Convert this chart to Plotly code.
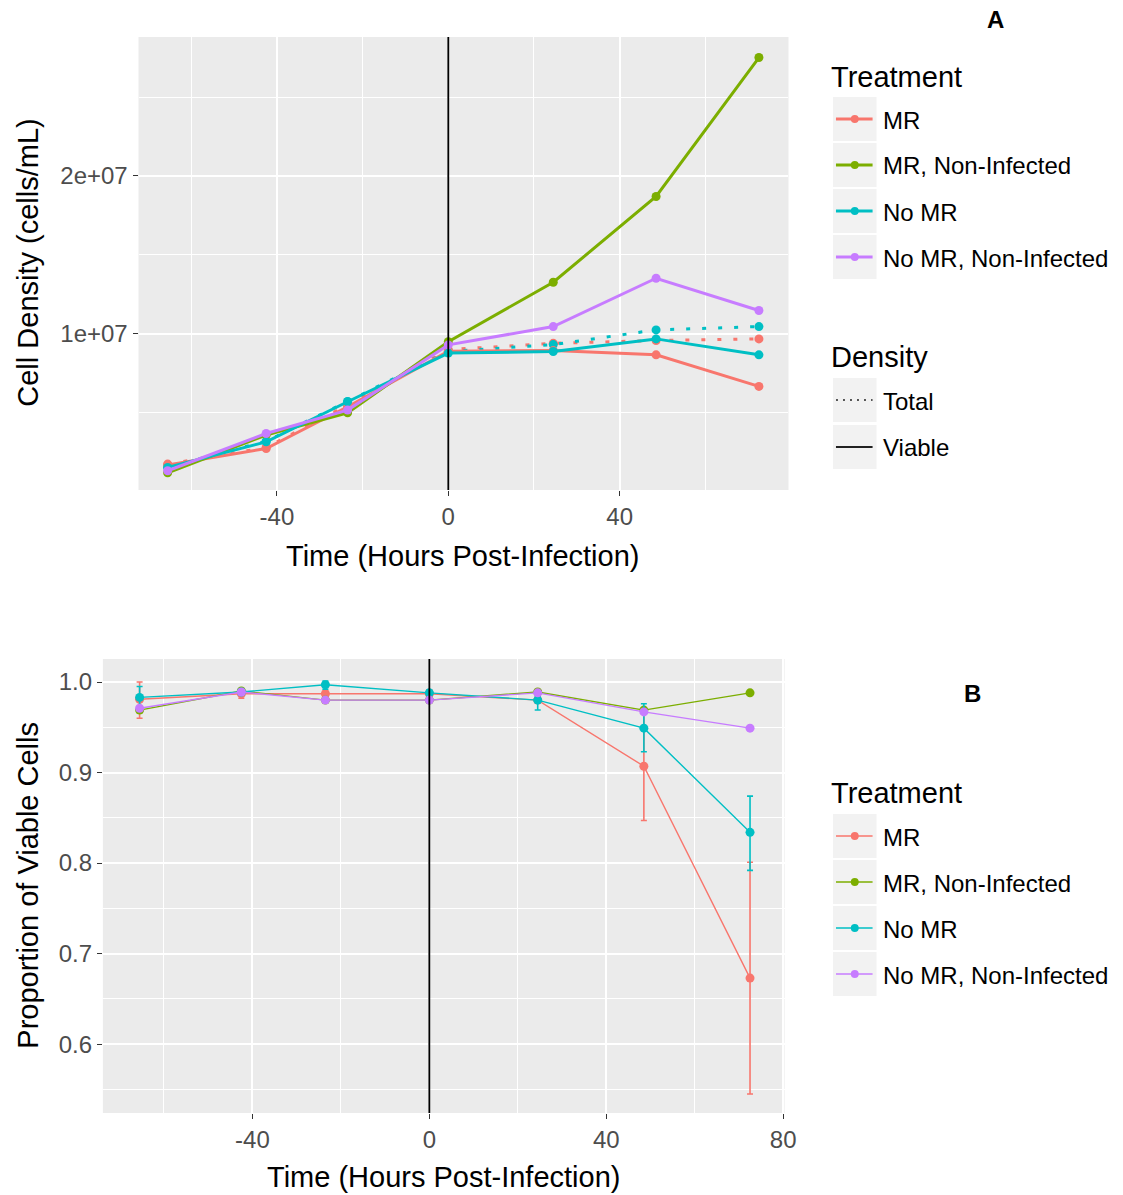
import plotly.graph_objects as go

W, H = 1123, 1195

# ---------------- data ----------------
treatments = ["MR", "MR, Non-Infected", "No MR", "No MR, Non-Infected"]
colors = ["#F8766D", "#7CAE00", "#00BFC4", "#C77CFF"]
hours = [-65.5, -42.5, -23.5, 0, 24.5, 48.5, 72.5]

# viable cell density (cells/mL)
viable_mr = [1.69e6, 2.74e6, 5.38e6, 8.90e6, 8.94e6, 8.67e6, 6.67e6]
viable_mr_ni = [1.20e6, 3.59e6, 5.00e6, 9.50e6, 1.327e7, 1.87e7, 2.75e7]
viable_nomr = [1.54e6, 3.16e6, 5.70e6, 8.78e6, 8.88e6, 9.68e6, 8.67e6]
viable_nomr_ni = [1.33e6, 3.69e6, 5.17e6, 9.30e6, 1.046e7, 1.352e7, 1.148e7]

# total cell density (cells/mL), infected treatments
total_mr = [1.75e6, 2.80e6, 5.50e6, 9.00e6, 9.40e6, 9.58e6, 9.68e6]
total_nomr = [1.57e6, 3.20e6, 5.72e6, 8.88e6, 9.32e6, 1.025e7, 1.046e7]

# proportion of viable cells with error bars
prop_mr = [0.981, 0.987, 0.987, 0.987, 0.980, 0.907, 0.673]
prop_mr_up = [0.019, 0.005, 0.003, 0.004, 0.003, 0.064, 0.128]
prop_mr_dn = [0.021, 0.005, 0.003, 0.004, 0.003, 0.060, 0.128]
prop_mr_ni = [0.969, 0.990, 0.980, 0.980, 0.989, 0.969, 0.988]
prop_mr_ni_up = [0.002, 0.002, 0.002, 0.002, 0.002, 0.002, 0.002]
prop_mr_ni_dn = [0.002, 0.002, 0.002, 0.002, 0.002, 0.002, 0.002]
prop_nomr = [0.983, 0.989, 0.997, 0.988, 0.980, 0.949, 0.834]
prop_nomr_up = [0.012, 0.003, 0.004, 0.003, 0.004, 0.027, 0.040]
prop_nomr_dn = [0.012, 0.003, 0.005, 0.003, 0.011, 0.026, 0.042]
prop_nomr_ni = [0.971, 0.989, 0.980, 0.980, 0.988, 0.967, 0.949]
prop_nomr_ni_up = [0.002, 0.002, 0.002, 0.002, 0.002, 0.002, 0.002]
prop_nomr_ni_dn = [0.002, 0.002, 0.002, 0.002, 0.002, 0.002, 0.002]

density_labels = ["Total", "Viable"]
top_xticks = [-40, 0, 40]
top_xticktext = ["-40", "0", "40"]
bottom_xticks = [-40, 0, 40, 80]
bottom_xticktext = ["-40", "0", "40", "80"]
top_yticks = [1e7, 2e7]
top_yticktext = ["1e+07", "2e+07"]
bottom_yticks = [0.6, 0.7, 0.8, 0.9, 1.0]
bottom_yticktext = ["0.6", "0.7", "0.8", "0.9", "1.0"]

viable = [viable_mr, viable_mr_ni, viable_nomr, viable_nomr_ni]
totals = {0: total_mr, 2: total_nomr}
props = [prop_mr, prop_mr_ni, prop_nomr, prop_nomr_ni]
props_up = [prop_mr_up, prop_mr_ni_up, prop_nomr_up, prop_nomr_ni_up]
props_dn = [prop_mr_dn, prop_mr_ni_dn, prop_nomr_dn, prop_nomr_ni_dn]

FONT = "Liberation Sans, Arial, sans-serif"
TICK_COL = "#4D4D4D"


def px(x):
    return x / W


def py(y):
    return 1 - y / H


fig = go.Figure()

# ---------------- top panel ----------------
for i, name in enumerate(treatments):
    if i in totals:
        fig.add_trace(go.Scatter(
            x=hours, y=totals[i], mode="lines+markers", xaxis="x", yaxis="y",
            line=dict(color=colors[i], width=3, dash="4px,12px"),
            marker=dict(color=colors[i], size=9), showlegend=False, name=name + " total"))
for i, name in enumerate(treatments):
    fig.add_trace(go.Scatter(
        x=hours, y=viable[i], mode="lines+markers", xaxis="x", yaxis="y",
        line=dict(color=colors[i], width=3),
        marker=dict(color=colors[i], size=9), showlegend=False, name=name))

# ---------------- bottom panel ----------------
for i, name in enumerate(treatments):
    fig.add_trace(go.Scatter(
        x=hours, y=props[i], mode="lines+markers", xaxis="x2", yaxis="y2",
        line=dict(color=colors[i], width=1.4),
        marker=dict(color=colors[i], size=9),
        error_y=dict(type="data", array=props_up[i], arrayminus=props_dn[i],
                     color=colors[i], thickness=1.6, width=3),
        showlegend=False, name=name))

axis_common = dict(
    showgrid=True, gridcolor="white", gridwidth=1.8, zeroline=False, showline=False,
    ticks="outside", ticklen=5, tickwidth=1.1, tickcolor="#333333",
    tickfont=dict(family=FONT, size=24, color=TICK_COL),
)
minor_grid = dict(showgrid=True, gridcolor="white", gridwidth=0.9)

fig.update_layout(
    width=W, height=H, margin=dict(l=0, r=0, t=0, b=0),
    paper_bgcolor="white", plot_bgcolor="#EBEBEB",
    font=dict(family=FONT),
    xaxis=dict(domain=[px(140), px(797)], range=[-72.3, 79.4], anchor="y",
               tickmode="array", tickvals=top_xticks, ticktext=top_xticktext,
               minor=dict(tickmode="array", tickvals=[-60, -20, 20, 60], **minor_grid),
               **axis_common),
    yaxis=dict(domain=[py(490), py(37)], range=[1.1e5, 2.88e7], anchor="x",
               tickmode="array", tickvals=top_yticks, ticktext=top_yticktext,
               minor=dict(tickmode="array", tickvals=[5e6, 1.5e7, 2.5e7], **minor_grid),
               **axis_common),
    xaxis2=dict(domain=[px(104), px(793)], range=[-73.8, 80.3], anchor="y2",
                tickmode="array", tickvals=bottom_xticks, ticktext=bottom_xticktext,
                minor=dict(tickmode="array", tickvals=[-60, -20, 20, 60], **minor_grid),
                **axis_common),
    yaxis2=dict(domain=[py(1113), py(659)], range=[0.524, 1.0254], anchor="x2",
                tickmode="array", tickvals=bottom_yticks, ticktext=bottom_yticktext,
                minor=dict(tickmode="array", tickvals=[0.55, 0.65, 0.75, 0.85, 0.95],
                           **minor_grid),
                **axis_common),
)

shapes = []
annotations = []

# vertical line at infection time
for xr, yr in [("x", "y domain"), ("x2", "y2 domain")]:
    shapes.append(dict(type="line", xref=xr, yref=yr, x0=0, x1=0, y0=0, y1=1,
                       line=dict(color="black", width=1.8), layer="above"))

# axis titles
title_font = dict(family=FONT, size=29, color="black")
annotations += [
    dict(text="Time (Hours Post-Infection)", x=px(467), y=py(556), xref="paper", yref="paper",
         showarrow=False, xanchor="center", yanchor="middle", font=title_font),
    dict(text="Time (Hours Post-Infection)", x=px(448), y=py(1177), xref="paper", yref="paper",
         showarrow=False, xanchor="center", yanchor="middle", font=title_font),
    dict(text="Cell Density (cells/mL)", x=px(28), y=py(263), xref="paper", yref="paper",
         showarrow=False, xanchor="center", yanchor="middle", textangle=-90, font=title_font),
    dict(text="Proportion of Viable Cells", x=px(28), y=py(885), xref="paper", yref="paper",
         showarrow=False, xanchor="center", yanchor="middle", textangle=-90, font=title_font),
    dict(text="<b>A</b>", x=px(1006), y=py(19), xref="paper", yref="paper",
         showarrow=False, xanchor="center", yanchor="middle",
         font=dict(family=FONT, size=24, color="black")),
    dict(text="<b>B</b>", x=px(983), y=py(693), xref="paper", yref="paper",
         showarrow=False, xanchor="center", yanchor="middle",
         font=dict(family=FONT, size=24, color="black")),
]

# ---------------- manual ggplot-style legends ----------------
label_font = dict(family=FONT, size=24, color="black")
KEY_X0, KEY_X1 = 842, 886
ROW = 46


def legend_title(text, y):
    annotations.append(dict(text=text, x=px(838), y=py(y), xref="paper", yref="paper",
                            showarrow=False, xanchor="left", yanchor="middle", font=title_font))


def legend_row(label, yc, color, width, dash=None, marker=True):
    shapes.append(dict(type="rect", xref="paper", yref="paper",
                       x0=px(KEY_X0), x1=px(KEY_X1), y0=py(yc + 22), y1=py(yc - 22),
                       fillcolor="#F2F2F2", line=dict(width=0), layer="above"))
    ln = dict(color=color, width=width)
    if dash:
        ln["dash"] = dash
    shapes.append(dict(type="line", xref="paper", yref="paper",
                       x0=px(KEY_X0 + 3), x1=px(KEY_X1 - 4), y0=py(yc), y1=py(yc),
                       line=ln, layer="above"))
    if marker:
        cx = (KEY_X0 + KEY_X1) / 2
        shapes.append(dict(type="circle", xref="paper", yref="paper",
                           x0=px(cx - 4), x1=px(cx + 4), y0=py(yc + 4), y1=py(yc - 4),
                           fillcolor=color, line=dict(width=0), layer="above"))
    annotations.append(dict(text=label, x=px(891), y=py(yc + 1), xref="paper", yref="paper",
                            showarrow=False, xanchor="left", yanchor="middle", font=label_font))


legend_title("Treatment", 77)
for i, name in enumerate(treatments):
    legend_row(name, 119 + ROW * i, colors[i], 3)

legend_title("Density", 357)
legend_row(density_labels[0], 400, "#222222", 1.5, dash="2px,5px", marker=False)
legend_row(density_labels[1], 447, "#222222", 2.2, marker=False)

legend_title("Treatment", 793)
for i, name in enumerate(treatments):
    legend_row(name, 836 + ROW * i, colors[i], 1.5)

fig.update_layout(shapes=shapes, annotations=annotations)

fig.write_html("out.html")
